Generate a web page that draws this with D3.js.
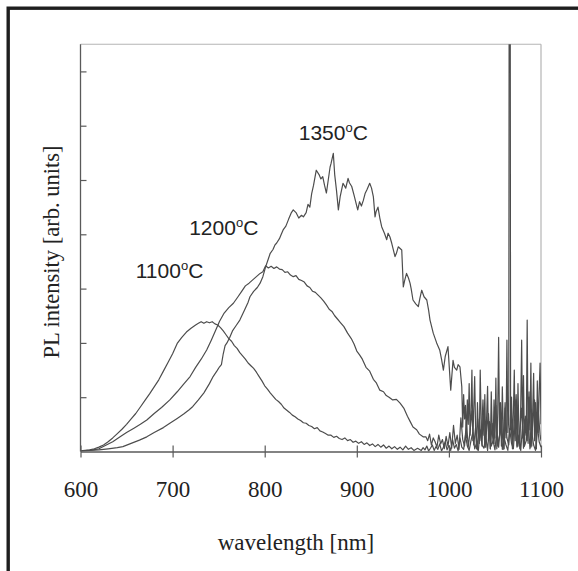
<!DOCTYPE html>
<html>
<head>
<meta charset="utf-8">
<script src="https://cdn.jsdelivr.net/npm/d3@7"></script>
<style>
  html, body { margin: 0; padding: 0; background: #fff; }
  svg { display: block; }
</style>
</head>
<body>
<svg id="chart" width="578" height="571"></svg>
<script>
// ---------- DATA ----------
const xTicks = [600, 700, 800, 900, 1000, 1100];
const yTicks = [1, 2, 3, 4, 5, 6, 7];
const xLabel = "wavelength [nm]";
const yLabel = "PL intensity [arb. units]";
const seriesNames = ["1100", "1200", "1350"];

// 1100 °C
const wl1100 = [600,605,610,615,620,625,630,635,640,645,650,655,660,665,670,675,680,685,690,695,700,705,710,715,720,725,728,731,734,737,740,743,746,749,752,755,758,761,764,767,770,773,776,779,782,785,788,791,794,797,800,803,806,809,812,815,818,821,824,827,830,833,836,839,842,845,848,851,854,857,860,863,866,869,872,875,878,881,884,887,890,893,896,899,902,905,908,911,914,917,920,923,926,929,932,935,938,941,944,947,950,953,956,959,962,966,
  970,972,974,976,978,980,982,984,986,988,990,992,994,996,998,1000,1002,1004,1006,1008,1010,1012,1014,1016,1018,1020,1022,1024,1026,1028,1030,1032,1034,1036,1038,1040,1042,1044,1046,1048,1050,1052,1054,1056,1058,1060,1062,1064,1066,1068,1070,1072,1074,1076,1078,1080,1082,1084,1086,1088,1090,1092,1094,1096,1098,1100];
const pl1100 = [0.01,0.02,0.03,0.05,0.08,0.12,0.18,0.25,0.33,0.41,0.50,0.60,0.70,0.82,0.94,1.06,1.19,1.32,1.48,1.64,1.80,1.99,2.10,2.20,2.27,2.33,2.36,2.39,2.36,2.39,2.37,2.39,2.35,2.33,2.28,2.22,2.15,2.08,2.03,1.95,1.90,1.82,1.76,1.70,1.63,1.58,1.53,1.46,1.38,1.30,1.21,1.15,1.08,1.02,0.96,0.92,0.87,0.80,0.76,0.72,0.67,0.64,0.60,0.57,0.53,0.52,0.48,0.46,0.42,0.44,0.38,0.36,0.33,0.30,0.30,0.26,0.28,0.24,0.22,0.25,0.20,0.22,0.17,0.19,0.15,0.18,0.13,0.16,0.11,0.14,0.09,0.13,0.08,0.12,0.06,0.10,0.05,0.09,0.04,0.08,0.03,0.10,0.04,0.07,0.02,0.06,
  0.02,0.07,0.03,0.10,0.01,0.06,0.12,0.02,0.09,0.04,0.14,0.01,0.08,0.18,0.03,0.11,0.02,0.22,0.06,0.13,0.01,0.25,0.08,0.04,0.30,0.10,0.02,0.20,0.35,0.05,0.15,0.02,0.40,0.12,0.06,0.28,0.02,0.45,0.10,0.20,0.03,0.38,0.08,0.50,0.04,0.25,0.12,0.02,0.42,0.15,0.05,0.55,0.08,0.30,0.02,0.48,0.10,0.20,0.60,0.05,0.35,0.12,0.02,0.50,0.18,0.08];

// 1200 °C
const wl1200 = [600,610,620,628,635,643,650,658,665,672,680,688,697,705,712,719,725,731,737,742,747,751,756,761,766,771,775,779,783,787,791,795,798,801,804,807,810,813,816,819,822,825,828,831,834,837,840,843,846,849,852,855,858,861,864,867,870,873,876,879,882,886,890,894,897,900,903,906,910,914,918,921,925,929,932,935,939,943,947,951,955,958,961,965,968,972,
  975,977,979,981,983,985,987,989,991,993,995,997,999,1001,1003,1005,1007,1009,1011,1013,1015,1017,1019,1021,1023,1025,1027,1029,1031,1033,1035,1037,1039,1041,1043,1045,1047,1049,1051,1053,1055,1057,1059,1061,1063,1065,1067,1069,1071,1073,1075,1077,1079,1081,1083,1085,1087,1089,1091,1093,1095,1097,1099,1100];
const pl1200 = [0.01,0.02,0.05,0.12,0.18,0.27,0.35,0.43,0.50,0.58,0.70,0.81,0.95,1.10,1.24,1.38,1.55,1.70,1.87,2.05,2.24,2.40,2.55,2.65,2.73,2.85,2.95,3.05,3.10,3.16,3.22,3.28,3.31,3.42,3.38,3.41,3.37,3.40,3.36,3.35,3.30,3.31,3.25,3.22,3.24,3.17,3.15,3.12,3.05,3.02,2.95,2.93,2.88,2.83,2.77,2.70,2.62,2.58,2.50,2.44,2.38,2.30,2.18,2.08,1.98,1.85,1.78,1.70,1.55,1.48,1.33,1.27,1.13,1.10,1.03,1.00,0.95,0.96,0.89,0.80,0.65,0.55,0.45,0.40,0.32,0.27,
  0.27,0.20,0.32,0.12,0.25,0.18,0.08,0.30,0.14,0.22,0.05,0.28,0.10,0.35,0.06,0.48,0.15,0.30,0.04,0.62,0.22,0.10,0.55,0.08,0.38,0.75,0.12,0.45,0.03,0.60,0.20,0.95,0.08,0.40,0.70,0.05,0.52,0.15,0.85,0.10,0.30,0.65,0.04,0.90,0.25,0.12,0.70,0.05,0.55,1.05,0.10,0.40,0.80,0.06,0.65,0.20,1.10,0.08,0.50,0.95,0.15,0.75,0.30,0.20];

// 1350 °C
const wl1350 = [600,610,620,630,640,646,655,664,672,680,690,697,705,712,718,722,728,734,740,744,748,751,753,755,757,759,762,765,769,773,778,782,784,788,792,795,798,801,804,806,809,811,813,816,818,820,823,826,829,831,834,837,840,842,845,847,849,851,853,856,859,861,863,865,867,869,871,872,874.5,876,878,880,882,885,888,890.5,892,894.5,897,901,903,905,907,909,911,914,916,918,919.8,921,923,925,927,930,932.5,934,936,938,941.5,943,945,948.8,950.5,952,954,956,957.8,959,961,964,966.8,968.5,970.5,973,976,978,979.5,983,986.7,990,992,994,996,999,1002,1004.5,1006,1008.5,1010,1012,
  1014,1015,1016,1017,1018,1019,1020,1021,1022,1023,1024,1025,1026,1027,1028,1029,1030,1031,1032,1033,1034,1035,1036,1037,1038,1039,1040,1041,1042,1043,1044,1045,1046,1047,1048,1049,1050,1051,1052,1053,1054,1055,1056,1057,1058,1059,1060,1061,1062,1063,1064,1065,1065.6,1066.4,1067,1068,1069,1070,1071,1072,1073,1074,1075,1076,1077,1078,1079,1080,1081,1082,1083,1084,1085,1086,1087,1088,1089,1090,1091,1092,1093,1094,1095,1096,1097,1098,1099,1100];
const pl1350 = [0.01,0.02,0.03,0.05,0.07,0.09,0.15,0.21,0.27,0.35,0.44,0.52,0.61,0.69,0.77,0.83,0.95,1.08,1.25,1.38,1.48,1.56,1.60,1.80,1.95,2.00,2.10,2.22,2.32,2.42,2.60,2.75,2.85,2.95,3.02,3.10,3.22,3.40,3.55,3.65,3.72,3.80,3.84,3.92,4.00,4.08,4.15,4.28,4.40,4.45,4.40,4.30,4.35,4.32,4.40,4.55,4.50,4.75,4.90,5.18,5.10,5.02,5.06,4.90,4.76,5.00,5.24,5.30,5.49,5.10,4.80,4.45,4.70,4.94,4.85,5.03,4.95,4.88,4.72,4.45,4.60,4.52,4.62,4.75,4.82,4.94,4.85,4.69,4.32,4.42,4.50,4.30,4.14,4.02,3.90,4.02,3.95,3.83,3.59,3.65,3.77,3.71,3.03,3.15,3.28,3.20,3.10,3.00,2.79,2.72,2.67,2.82,2.97,2.85,2.79,2.60,2.42,2.18,2.00,1.87,1.70,1.50,1.75,1.93,1.13,1.68,1.55,1.50,1.60,1.56,
  1.19,0.45,1.05,0.60,0.85,0.25,0.95,0.50,1.25,0.30,0.70,1.50,0.20,0.80,1.38,0.40,0.05,0.90,0.35,0.15,1.50,0.60,0.10,0.75,0.30,1.05,0.08,0.65,1.20,0.20,0.55,0.05,1.10,0.40,0.15,0.95,0.25,1.35,0.05,0.70,2.10,0.30,0.90,0.10,1.19,0.45,0.05,0.80,0.25,2.05,0.35,0.60,12,12,0.40,1.00,0.15,0.70,1.50,0.20,0.95,0.10,1.25,0.35,0.05,0.85,2.05,0.25,1.40,0.10,0.60,0.30,2.42,0.15,1.00,0.40,1.63,0.10,0.75,1.44,0.20,0.90,0.05,1.30,0.35,1.10,1.63,0.50];

const labelTexts = ["1100", "1200", "1350"];

// ---------- DRAW ----------
const svg = d3.select("#chart");
const serif = "'Liberation Serif', 'Times New Roman', serif";
const sans = "'Liberation Sans', Arial, sans-serif";

// outer frame (cropped at right/bottom in the reference)
svg.append("rect")
  .attr("x", 8.2).attr("y", 8.2)
  .attr("width", 700).attr("height", 700)
  .attr("fill", "none").attr("stroke", "#1e1e1e").attr("stroke-width", 3.4);

const x = d3.scaleLinear().domain([600, 1100]).range([80.5, 541]);
const y = d3.scaleLinear().domain([0, 7.5]).range([451.5, 44.25]);

// clip
svg.append("defs").append("clipPath").attr("id", "clip")
  .append("rect")
  .attr("x", x(600)).attr("y", y(7.5))
  .attr("width", x(1100) - x(600)).attr("height", y(0) - y(7.5));

// plot frame (top/right light)
svg.append("line")
  .attr("x1", x(600)).attr("x2", x(1100)).attr("y1", y(7.5)).attr("y2", y(7.5))
  .attr("stroke", "#b4b4b4").attr("stroke-width", 1.2);
svg.append("line")
  .attr("x1", x(1100)).attr("x2", x(1100)).attr("y1", y(7.5)).attr("y2", y(0))
  .attr("stroke", "#b4b4b4").attr("stroke-width", 1.2);

// data lines
const series = [
  { name: seriesNames[0], wl: wl1100, pl: pl1100 },
  { name: seriesNames[1], wl: wl1200, pl: pl1200 },
  { name: seriesNames[2], wl: wl1350, pl: pl1350 }
];
const line = d3.line().x(d => x(d[0])).y(d => y(d[1]));
const gLines = svg.append("g").attr("clip-path", "url(#clip)");
series.forEach(s => {
  gLines.append("path")
    .datum(s.wl.map((w, i) => [w, s.pl[i]]))
    .attr("d", line)
    .attr("fill", "none")
    .attr("stroke", "#4d4d4d")
    .attr("stroke-width", 1.2)
    .attr("stroke-linejoin", "round");
});

// x axis
const xAxis = d3.axisBottom(x).tickValues(xTicks).tickSizeInner(6).tickSizeOuter(0).tickFormat(d3.format("d"));
const gx = svg.append("g").attr("transform", `translate(0,${y(0)})`).call(xAxis);
gx.select(".domain").attr("stroke", "#5a5a5a").attr("stroke-width", 1.3);
gx.selectAll(".tick line").attr("stroke", "#5a5a5a").attr("stroke-width", 1.2).attr("y1", -6).attr("y2", 6);
gx.selectAll(".tick text")
  .attr("font-family", serif).attr("font-size", 23).attr("fill", "#222")
  .attr("y", 45.5).attr("dy", 0);

// y axis (ticks inward, no labels)
const yAxis = d3.axisLeft(y).tickValues(yTicks).tickSize(-6).tickFormat("");
const gy = svg.append("g").attr("transform", `translate(${x(600)},0)`).call(yAxis);
gy.select(".domain").attr("stroke", "#5a5a5a").attr("stroke-width", 1.3)
  .attr("d", `M0,${y(7.5)}V${y(0)}`);
gy.selectAll(".tick line").attr("stroke", "#5a5a5a").attr("stroke-width", 1.2);

// axis titles
svg.append("text")
  .attr("x", 296).attr("y", 550)
  .attr("text-anchor", "middle")
  .attr("font-family", serif).attr("font-size", 23).attr("fill", "#222")
  .text(xLabel);
svg.append("text")
  .attr("transform", "translate(59,252) rotate(-90)")
  .attr("text-anchor", "middle")
  .attr("font-family", serif).attr("font-size", 22.5).attr("fill", "#222")
  .text(yLabel);

// curve labels
const labelPos = [
  { wl: 660, v: (451.5 - 278) / 54.3 },
  { wl: 718, v: (451.5 - 235) / 54.3 },
  { wl: 837, v: (451.5 - 140) / 54.3 }
];
labelTexts.forEach((t, i) => {
  const txt = svg.append("text")
    .attr("x", x(labelPos[i].wl)).attr("y", y(labelPos[i].v))
    .attr("font-family", sans).attr("font-size", 21).attr("fill", "#222");
  txt.append("tspan").text(t);
  txt.append("tspan").attr("font-size", 13).attr("dy", -8).text("o");
  txt.append("tspan").attr("dy", 8).text("C");
});
</script>
</body>
</html>
